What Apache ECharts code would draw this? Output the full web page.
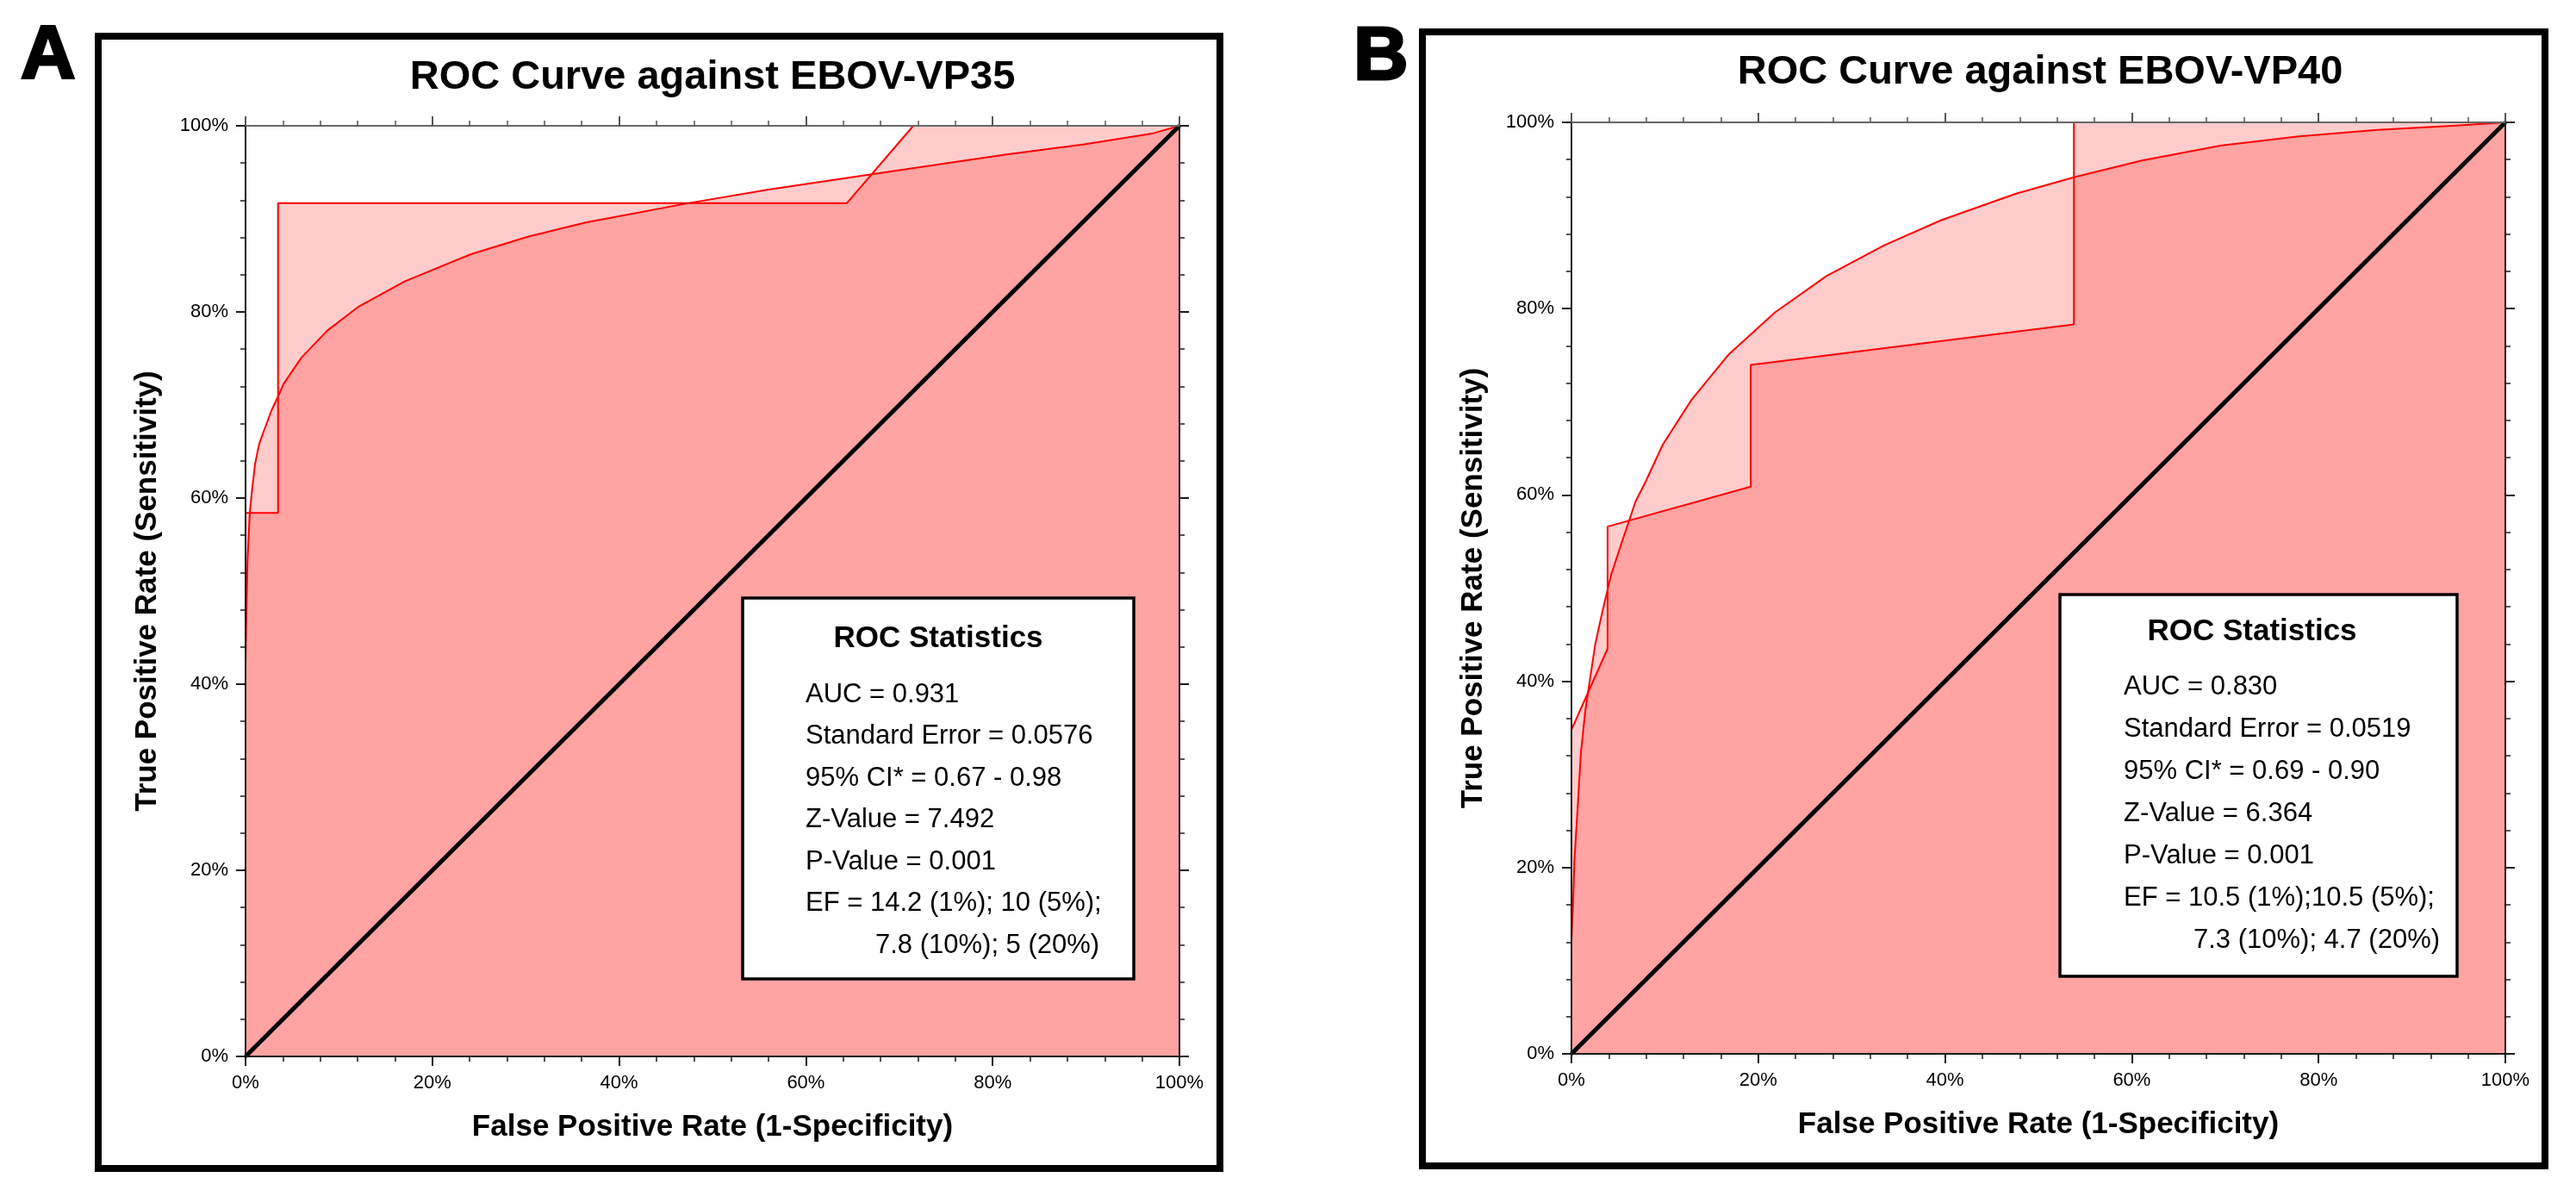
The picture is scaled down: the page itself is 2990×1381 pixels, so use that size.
<!DOCTYPE html>
<html><head><meta charset="utf-8">
<script src="https://cdn.jsdelivr.net/npm/echarts@6/dist/echarts.min.js"></script>
<style>html,body{margin:0;padding:0;background:#fff}#c{width:2990px;height:1381px}</style>
</head><body><div id="c"></div>
<script>
// ---------- data ----------
const panelLabels = ['A', 'B'];
const chartTitles = ['ROC Curve against EBOV-VP35', 'ROC Curve against EBOV-VP40'];
const xAxisTitle = 'False Positive Rate (1-Specificity)';
const yAxisTitle = 'True Positive Rate (Sensitivity)';
const axisMin = 0, axisMax = 100, axisStep = 20;

// empirical (step) ROC curves  [FPR %, TPR %]
const stepA = [[0,0],[0,58.4],[3.48,58.4],[3.48,91.7],[64.4,91.7],[71.5,100],[100,100]];
const stepB = [[0,0],[0,34.8],[3.87,43.5],[3.87,56.6],[19.2,60.9],[19.2,73.95],[53.8,78.3],[53.8,100],[100,100]];

// fitted (smooth) ROC curves  [FPR %, TPR %]
const smoothA = [[0,42],[0.1,48],[0.21,53.3],[0.46,58.5],[0.71,61.0],[1.01,63.6],[1.45,65.8],[1.85,66.9],[2.77,69.4],[3.48,70.9],[4.09,72.3],[6.0,75.1],[8.76,78.0],[12.15,80.6],[17.07,83.3],[24.14,86.2],[30.3,88.1],[36.4,89.6],[47.5,91.7],[56.0,93.15],[64.4,94.4],[71.9,95.5],[81.3,96.9],[89.8,98.0],[97.2,99.2],[100,100]];
const smoothB = [[0,12],[0.2,17],[0.31,20.6],[0.71,27.2],[1.01,32.3],[1.48,36.8],[1.94,39.9],[2.55,44.0],[3.32,47.5],[4.24,51.4],[5.32,54.7],[6.86,59.3],[7.93,61.4],[9.78,65.4],[12.85,70.2],[16.85,75.1],[21.8,79.6],[27.3,83.5],[33.5,86.8],[39.6,89.5],[47.6,92.35],[53.8,94.1],[61.1,95.9],[69.5,97.5],[77.9,98.5],[86.3,99.2],[94.7,99.65],[100,100]];

// chance line
const chanceLine = [[0,0],[100,100]];

// statistics boxes
const statsTitle = 'ROC Statistics';
const statsA = ['AUC = 0.931', 'Standard Error = 0.0576', '95% CI* = 0.67 - 0.98', 'Z-Value = 7.492', 'P-Value = 0.001', 'EF = 14.2 (1%); 10 (5%);', '7.8 (10%); 5 (20%)'];
const statsB = ['AUC = 0.830', 'Standard Error = 0.0519', '95% CI* = 0.69 - 0.90', 'Z-Value = 6.364', 'P-Value = 0.001', 'EF = 10.5 (1%);10.5 (5%);', '7.3 (10%); 4.7 (20%)'];

// ---------- layout ----------
const FONT = '"Liberation Sans", Arial, sans-serif';
const layout = [
  {grid:{left:285, top:146, width:1084, height:1080}, frame:{x:114, y:42, w:1302, h:1314},
   label:{x:24, y:66}, title:{x:827, y:90},
   box:{x:862, y:694, w:454, h:442, tx:1089, ty:741, lx:935, ix:1016, ly0:806, dy:48.5}},
  {grid:{left:1824, top:142, width:1084, height:1081}, frame:{x:1651, y:37, w:1303, h:1316},
   label:{x:1571, y:68}, title:{x:2368, y:84},
   box:{x:2391, y:690, w:461, h:443, tx:2614, ty:733, lx:2465, ix:2546, ly0:797, dy:49}}
];
const steps = [stepA, stepB], smooths = [smoothA, smoothB], stats = [statsA, statsB];

const chart = echarts.init(document.getElementById('c'), null, {renderer:'canvas'});

const grids = [], xAxes = [], yAxes = [], series = [], graphics = [];
const fillColor = 'rgba(255,0,0,0.2)';

function axisCommon(extra) {
  return Object.assign({
    type:'value', min:axisMin, max:axisMax, interval:axisStep,
    splitLine:{show:false}, z:5,
    axisLine:{show:true, onZero:false, lineStyle:{color:'#1a1a1a', width:2}},
    axisTick:{show:true, inside:false, length:11, lineStyle:{color:'#1a1a1a', width:2}},
    minorTick:{show:true, splitNumber:5, length:6, lineStyle:{color:'#1a1a1a', width:1.5}},
    axisLabel:{show:false}
  }, extra);
}

layout.forEach((L, i) => {
  grids.push(Object.assign({containLabel:false}, L.grid));
  xAxes.push(axisCommon({gridIndex:i, position:'bottom',
    name:xAxisTitle, nameLocation:'middle', nameGap:65,
    nameTextStyle:{fontFamily:FONT, fontWeight:'bold', fontSize:35, color:'#000'},
    axisLabel:{show:true, margin:20, fontFamily:FONT, fontSize:22, color:'#000', formatter:'{value}%'}}));
  xAxes.push(axisCommon({gridIndex:i, position:'top',
    axisLine:{show:true, onZero:false, lineStyle:{color:'#666', width:2}},
    axisTick:{show:true, inside:false, length:11, lineStyle:{color:'#555', width:2}},
    minorTick:{show:true, splitNumber:5, length:6, lineStyle:{color:'#555', width:1.5}}}));
  yAxes.push(axisCommon({gridIndex:i, position:'left',
    name:yAxisTitle, nameLocation:'middle', nameGap:96, nameRotate:90,
    nameTextStyle:{fontFamily:FONT, fontWeight:'bold', fontSize:35, color:'#000'},
    axisLabel:{show:true, margin:20, fontFamily:FONT, fontSize:22, color:'#000', formatter:'{value}%'}}));
  yAxes.push(axisCommon({gridIndex:i, position:'right'}));

  series.push({type:'line', xAxisIndex:2*i, yAxisIndex:2*i, data:smooths[i], smooth:false,
    symbol:'none', lineStyle:{color:'#ff0000', width:2, join:'round'}, areaStyle:{color:fillColor, opacity:1}, z:2, silent:true});
  series.push({type:'line', xAxisIndex:2*i, yAxisIndex:2*i, data:steps[i],
    symbol:'none', lineStyle:{color:'#ff0000', width:2}, areaStyle:{color:fillColor, opacity:1}, z:3, silent:true});
  series.push({type:'line', xAxisIndex:2*i, yAxisIndex:2*i, data:chanceLine,
    symbol:'none', lineStyle:{color:'#000', width:5}, z:4, silent:true});

  // frame
  graphics.push({type:'rect', shape:{x:L.frame.x, y:L.frame.y, width:L.frame.w, height:L.frame.h},
    style:{fill:null, stroke:'#000', lineWidth:8}, z:10});
  // panel letter
  graphics.push({type:'text', x:L.label.x, y:L.label.y, z:10,
    style:{text:panelLabels[i], font:'bold 88px ' + FONT, fill:'#000', stroke:'#000', lineWidth:3,
      textAlign:'left', textVerticalAlign:'middle'}});
  // chart title
  graphics.push({type:'text', x:L.title.x, y:L.title.y, z:10,
    style:{text:chartTitles[i], font:'bold 47px ' + FONT, fill:'#000', textAlign:'center', textVerticalAlign:'middle'}});
  // stats box
  const B = L.box;
  graphics.push({type:'rect', shape:{x:B.x, y:B.y, width:B.w, height:B.h},
    style:{fill:'#fff', stroke:'#000', lineWidth:3.5}, z:20});
  graphics.push({type:'text', x:B.tx, y:B.ty, z:21,
    style:{text:statsTitle, font:'bold 35px ' + FONT, fill:'#000', textAlign:'center', textVerticalAlign:'middle'}});
  stats[i].forEach((s, k) => {
    graphics.push({type:'text', x:(k === stats[i].length - 1 ? B.ix : B.lx), y:B.ly0 + k * B.dy, z:21,
      style:{text:s, font:'31px ' + FONT, fill:'#000', textAlign:'left', textVerticalAlign:'middle'}});
  });
});

chart.setOption({
  backgroundColor:'#fff',
  animation:false,
  grid:grids, xAxis:xAxes, yAxis:yAxes, series:series,
  graphic:{elements:graphics}
});
</script></body></html>
